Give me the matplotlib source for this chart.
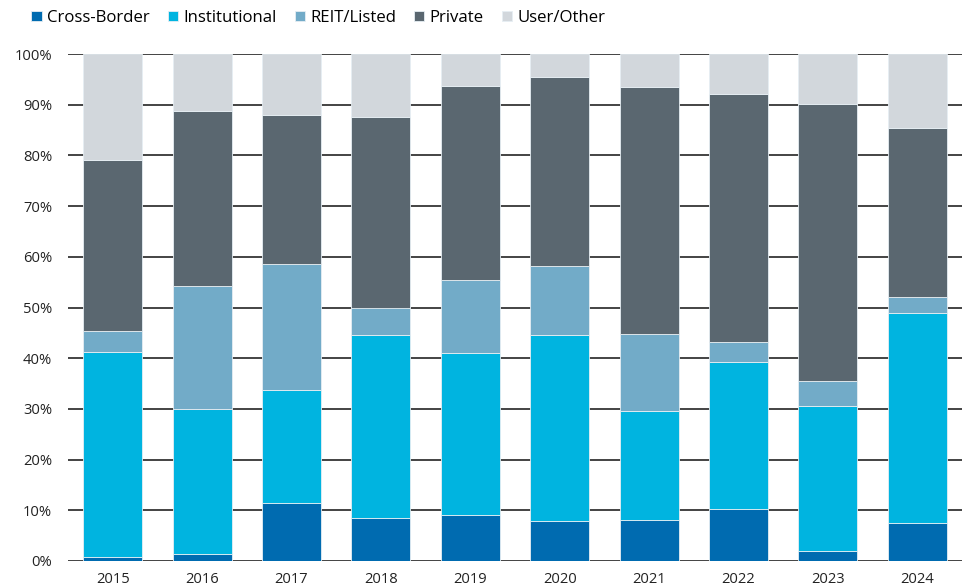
import matplotlib
matplotlib.use("Agg")
import matplotlib.pyplot as plt
import numpy as np

plt.rcParams['font.family'] = ['Open Sans', 'DejaVu Sans']

years = ["2015", "2016", "2017", "2018", "2019", "2020", "2021", "2022", "2023", "2024"]
series_names = ["Cross-Border", "Institutional", "REIT/Listed", "Private", "User/Other"]
cross_border = [0.8, 1.3, 11.5, 8.5, 9.1, 7.8, 8.1, 10.3, 2.0, 7.4]
institutional = [40.5, 28.7, 22.3, 36.1, 32.0, 36.8, 21.5, 28.9, 28.6, 41.6]
reit_listed = [4.1, 24.2, 24.8, 5.4, 14.3, 13.6, 15.2, 3.9, 5.0, 3.1]
private = [33.7, 34.6, 29.4, 37.5, 38.3, 37.3, 48.7, 49.1, 54.5, 33.3]
user_other = [20.9, 11.2, 12.0, 12.5, 6.3, 4.5, 6.5, 7.8, 9.9, 14.6]

colors = ["#006BB0", "#00B4E0", "#72ABC8", "#5A6770", "#D2D7DC"]

fig = plt.figure(figsize=(9.70, 5.87), dpi=100)
ax = fig.add_axes([68/970, 1 - 561/587, (962 - 68)/970, (561 - 54)/587])

x = np.arange(len(years))
bottom = np.zeros(len(years))
handles = []
for vals, name, c in zip([cross_border, institutional, reit_listed, private, user_other], series_names, colors):
    b = ax.bar(x, vals, bottom=bottom, width=0.66, color=c, edgecolor="#E6EEF3",
               linewidth=0.6, label=name, zorder=3)
    handles.append(b)
    bottom += np.array(vals)

ax.set_xlim(-0.5, len(years) - 0.5)
ax.set_ylim(0, 100)
ax.set_yticks(np.arange(0, 101, 10))
ax.set_yticklabels([f"{v}%" for v in range(0, 101, 10)])
ax.set_xticks(x)
ax.set_xticklabels(years)
ax.yaxis.grid(True, color="#111111", linewidth=1.1, zorder=0)
ax.set_axisbelow(True)
for s in ax.spines.values():
    s.set_visible(False)
ax.tick_params(axis="both", length=0, labelsize=10.6, colors="#222222")
ax.tick_params(axis="y", pad=11.5)
ax.tick_params(axis="x", pad=8)

fig.legend(handles=handles, labels=series_names, loc="upper left", bbox_to_anchor=(0.022, 1.0),
           ncol=5, frameon=False, fontsize=12.1, handlelength=0.6, handleheight=0.6,
           handletextpad=0.3, columnspacing=1.1, borderaxespad=0.2)

fig.savefig("out.png", dpi=100)
